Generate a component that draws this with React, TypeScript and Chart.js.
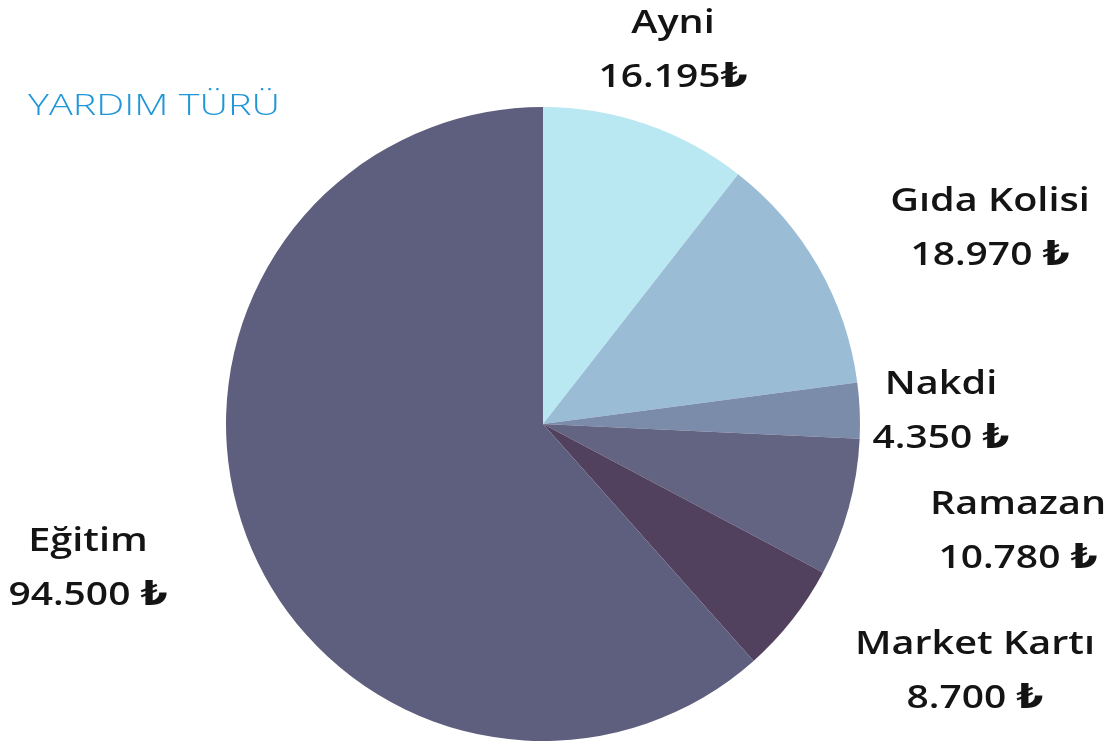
import React, { useEffect, useRef } from "react";
import { Chart, registerables } from "chart.js";

Chart.register(...registerables);

const categories = ["Ayni", "Gıda Kolisi", "Nakdi", "Ramazan", "Market Kartı", "Eğitim"];
const values = [16195, 18970, 4350, 10780, 8700, 94500];
const valueLabels = ["16.195₺", "18.970 ₺", "4.350 ₺", "10.780 ₺", "8.700 ₺", "94.500 ₺"];
const colors = ["#b9e8f3", "#9abcd5", "#7b8caa", "#636482", "#51405e", "#5e5e7e"];
const chartTitle = "YARDIM TÜRÜ";

// label anchor offsets (px) relative to pie center: [dx, dy of first line center]
const labelOffsets: [number, number][] = [
  [130, -400],
  [447, -222],
  [398, -39],
  [475, 81],
  [432, 221],
  [-455, 118],
];

const FONT = '"Open Sans", "DejaVu Sans", sans-serif';

function stretchedText(ctx: CanvasRenderingContext2D, text: string, x: number, y: number, sx: number) {
  ctx.save();
  ctx.translate(x, y);
  ctx.scale(sx, 1);
  ctx.fillText(text, 0, 0);
  ctx.restore();
}

const labelPlugin = {
  id: "outerLabels",
  afterDraw(chart: any) {
    const ctx = chart.ctx;
    const meta = chart.getDatasetMeta(0);
    const arc = meta.data[0];
    if (!arc) return;
    const cx = arc.x;
    const cy = arc.y;
    ctx.save();
    ctx.fillStyle = "#141414";
    ctx.textAlign = "center";
    ctx.textBaseline = "middle";
    ctx.font = `600 33px ${FONT}`;
    categories.forEach((c, i) => {
      const [dx, dy] = labelOffsets[i];
      stretchedText(ctx, c, cx + dx, cy + dy, 1.2);
      stretchedText(ctx, valueLabels[i], cx + dx, cy + dy + 54, 1.18);
    });
    ctx.fillStyle = "#1e96d8";
    ctx.font = `300 30px ${FONT}`;
    ctx.textAlign = "left";
    stretchedText(ctx, chartTitle, 28, 106, 1.32);
    ctx.restore();
  },
};

export default function App() {
  const ref = useRef<HTMLCanvasElement>(null);
  useEffect(() => {
    document.body.style.margin = "0";
    const chart = new Chart(ref.current!, {
      type: "pie",
      data: {
        labels: categories,
        datasets: [
          {
            data: values,
            backgroundColor: colors,
            borderWidth: 0,
          },
        ],
      },
      options: {
        animation: false,
        responsive: false,
        layout: { padding: { left: 226, right: 256, top: 107, bottom: 3 } },
        plugins: {
          legend: { display: false },
          tooltip: { enabled: false },
        },
      },
      plugins: [labelPlugin],
    });
    return () => chart.destroy();
  }, []);
  return (
    <div style={{ width: 1116, height: 744, background: "#ffffff" }}>
      <canvas ref={ref} width={1116} height={744} />
    </div>
  );
}
